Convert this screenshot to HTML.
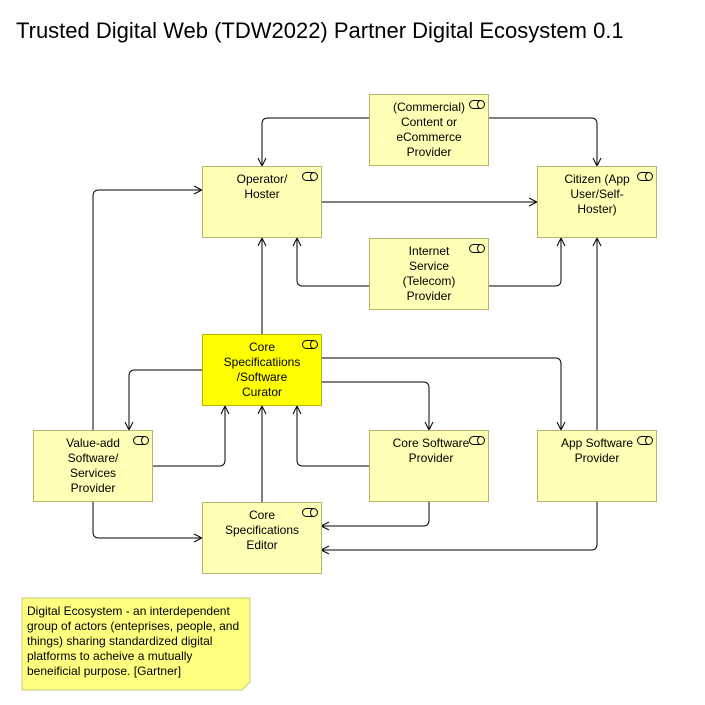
<!DOCTYPE html>
<html><head><style>
body{margin:0;width:705px;height:705px;background:#fff;overflow:hidden;font-family:"Liberation Sans",sans-serif}
.t{position:absolute;left:16px;top:18px;font-size:22px;color:#000}
.b{position:absolute;width:118px;height:70px;background:#ffffb5;border:1px solid #b5b56a;font-size:12px;line-height:15px;text-align:center;box-sizing:content-box}
.b span{display:block;width:82px;margin:5px 0 0 18px}
.b svg{position:absolute;right:3px;top:5px}
</style></head><body>
<div class="t">Trusted Digital Web (TDW2022) Partner Digital Ecosystem 0.1</div>
<svg width="705" height="705" style="position:absolute;left:0;top:0" fill="none" stroke="#000" stroke-width="1">
<defs><marker id="a" markerWidth="10" markerHeight="10" refX="9" refY="5" orient="auto" markerUnits="userSpaceOnUse"><path d="M1,1 L9,5 L1,9" stroke="#000" fill="none"/></marker></defs>
<path d="M369,118 H268 Q262,118 262,124 V166" marker-end="url(#a)"/>
<path d="M488,118 H591 Q597,118 597,124 V166" marker-end="url(#a)"/>
<path d="M321,202 H537" marker-end="url(#a)"/>
<path d="M369,286 H303 Q297,286 297,280 V238" marker-end="url(#a)"/>
<path d="M488,286 H555 Q561,286 561,280 V238" marker-end="url(#a)"/>
<path d="M262,334 V238" marker-end="url(#a)"/>
<path d="M93,430 V196 Q93,190 99,190 H202" marker-end="url(#a)"/>
<path d="M202,370 H135 Q129,370 129,376 V430" marker-end="url(#a)"/>
<path d="M152,466 H219 Q225,466 225,460 V406" marker-end="url(#a)"/>
<path d="M262,502 V406" marker-end="url(#a)"/>
<path d="M369,466 H303 Q297,466 297,460 V406" marker-end="url(#a)"/>
<path d="M321,382 H423 Q429,382 429,388 V430" marker-end="url(#a)"/>
<path d="M321,358 H555 Q561,358 561,364 V430" marker-end="url(#a)"/>
<path d="M597,430 V238" marker-end="url(#a)"/>
<path d="M429,502 V520 Q429,526 423,526 H321" marker-end="url(#a)"/>
<path d="M597,502 V544 Q597,550 591,550 H321" marker-end="url(#a)"/>
<path d="M93,502 V532 Q93,538 99,538 H202" marker-end="url(#a)"/>
<path d="M22,598 H250 V682 L242,690 H22 Z" fill="#ffff80" stroke="#c8c878"/>
</svg>
<div class="b" style="left:369px;top:94px"><span>(Commercial) Content or eCommerce Provider</span><svg width="16" height="9"><rect x="0.5" y="0.5" width="15" height="8" rx="4" fill="none" stroke="#000"/><path d="M11.5,0.5 A3,4 0 0 0 11.5,8.5" fill="none" stroke="#000"/></svg></div>
<div class="b" style="left:202px;top:166px"><span>Operator/ Hoster</span><svg width="16" height="9"><rect x="0.5" y="0.5" width="15" height="8" rx="4" fill="none" stroke="#000"/><path d="M11.5,0.5 A3,4 0 0 0 11.5,8.5" fill="none" stroke="#000"/></svg></div>
<div class="b" style="left:537px;top:166px"><span>Citizen (App User/Self-Hoster)</span><svg width="16" height="9"><rect x="0.5" y="0.5" width="15" height="8" rx="4" fill="none" stroke="#000"/><path d="M11.5,0.5 A3,4 0 0 0 11.5,8.5" fill="none" stroke="#000"/></svg></div>
<div class="b" style="left:369px;top:238px"><span>Internet<br>Service (Telecom) Provider</span><svg width="16" height="9"><rect x="0.5" y="0.5" width="15" height="8" rx="4" fill="none" stroke="#000"/><path d="M11.5,0.5 A3,4 0 0 0 11.5,8.5" fill="none" stroke="#000"/></svg></div>
<div class="b" style="left:202px;top:334px;background:#ffff00;border-color:#b5b500"><span>Core Specificatiions /Software Curator</span><svg width="16" height="9"><rect x="0.5" y="0.5" width="15" height="8" rx="4" fill="none" stroke="#000"/><path d="M11.5,0.5 A3,4 0 0 0 11.5,8.5" fill="none" stroke="#000"/></svg></div>
<div class="b" style="left:33px;top:430px"><span>Value-add Software/ Services Provider</span><svg width="16" height="9"><rect x="0.5" y="0.5" width="15" height="8" rx="4" fill="none" stroke="#000"/><path d="M11.5,0.5 A3,4 0 0 0 11.5,8.5" fill="none" stroke="#000"/></svg></div>
<div class="b" style="left:369px;top:430px"><span style="width:86px">Core Software Provider</span><svg width="16" height="9"><rect x="0.5" y="0.5" width="15" height="8" rx="4" fill="none" stroke="#000"/><path d="M11.5,0.5 A3,4 0 0 0 11.5,8.5" fill="none" stroke="#000"/></svg></div>
<div class="b" style="left:537px;top:430px"><span>App Software Provider</span><svg width="16" height="9"><rect x="0.5" y="0.5" width="15" height="8" rx="4" fill="none" stroke="#000"/><path d="M11.5,0.5 A3,4 0 0 0 11.5,8.5" fill="none" stroke="#000"/></svg></div>
<div class="b" style="left:202px;top:502px"><span>Core Specifications Editor</span><svg width="16" height="9"><rect x="0.5" y="0.5" width="15" height="8" rx="4" fill="none" stroke="#000"/><path d="M11.5,0.5 A3,4 0 0 0 11.5,8.5" fill="none" stroke="#000"/></svg></div>
<div style="position:absolute;left:27px;top:604px;width:215px;font-size:12px;line-height:15px">Digital Ecosystem - an interdependent group of actors (enteprises, people, and things) sharing standardized digital platforms to acheive a mutually beneificial purpose. [Gartner]</div>
</body></html>
